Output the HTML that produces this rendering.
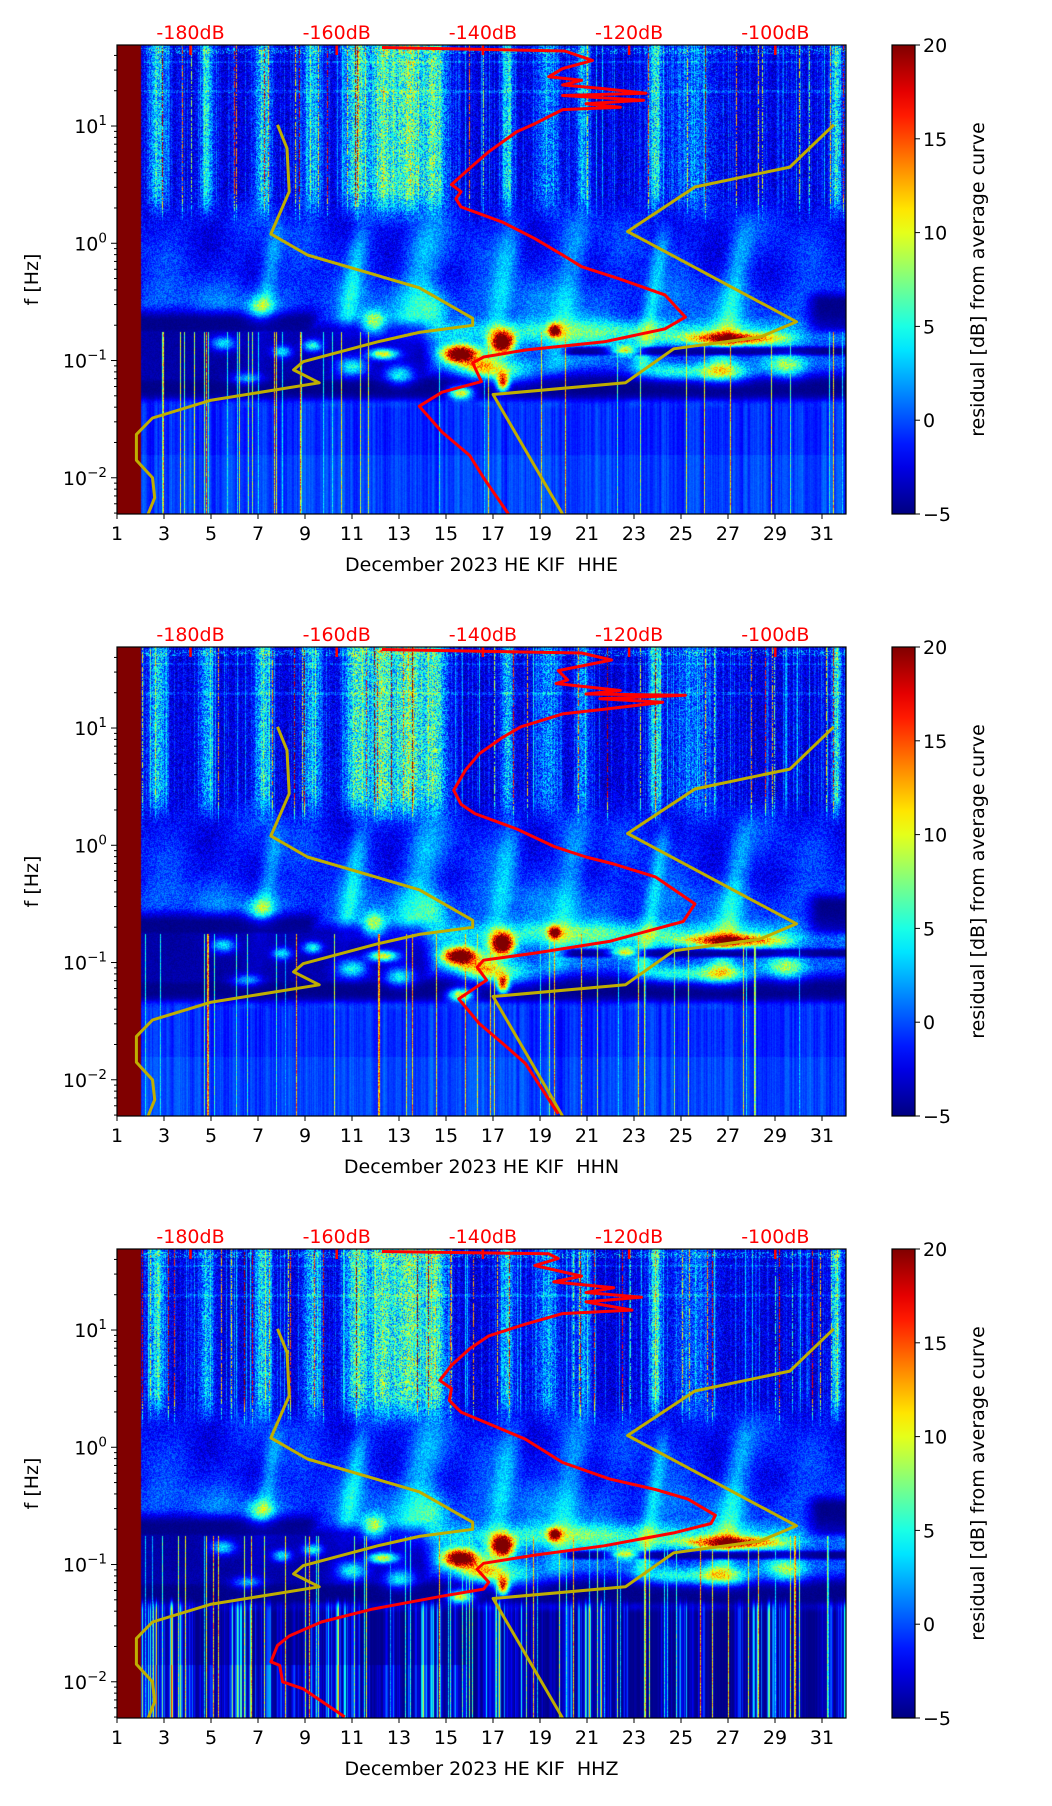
<!DOCTYPE html>
<html><head><meta charset="utf-8">
<style>
html,body{margin:0;padding:0;background:#fff;}
#wrap{position:relative;width:1052px;height:1806px;overflow:hidden;font-family:"DejaVu Sans","Liberation Sans",sans-serif;}
canvas{position:absolute;}
svg{position:absolute;left:0;top:0;}
</style></head>
<body>
<div id="wrap">
<canvas id="spec0" width="729" height="469" style="left:117px;top:45px"></canvas>
<canvas id="spec1" width="729" height="469" style="left:117px;top:647px"></canvas>
<canvas id="spec2" width="729" height="469" style="left:117px;top:1249px"></canvas>
<svg id="ov" width="1052" height="1806" xmlns="http://www.w3.org/2000/svg"></svg>
</div>
<script>
// ---- data ----
const panelTitles = ["December 2023 HE KIF\u00a0\u00a0HHE","December 2023 HE KIF\u00a0\u00a0HHN","December 2023 HE KIF\u00a0\u00a0HHZ"];
const dayTicks = [1,3,5,7,9,11,13,15,17,19,21,23,25,27,29,31];
const dbTicks = [-180,-160,-140,-120,-100];
const cbTicks = [-5,0,5,10,15,20];
const yDecades = [-2,-1,0,1];
// yellow percentile curves (dB, log10 Hz)
const yelLowDb = [-168.1,-166.8,-166.5,-169.0,-164.0,-148.7,-141.4,-141.4,-148.7,-154.4,-164.6,-165.9,-162.4,-177.3,-185.2,-187.4,-187.4,-185.2,-184.9,-185.8];
const yelLowLf = [1.01,0.81,0.44,0.08,-0.10,-0.38,-0.64,-0.70,-0.76,-0.84,-1.01,-1.08,-1.19,-1.34,-1.49,-1.63,-1.85,-2.00,-2.17,-2.31];
const yelHighDb = [-92.0,-98.0,-111.0,-120.2,-97.1,-102.1,-113.9,-120.5,-138.6,-129.1];
const yelHighLf = [1.01,0.65,0.48,0.10,-0.67,-0.80,-0.90,-1.19,-1.29,-2.31];
// red average curves
const red1Db = [-153.8,-128.8,-125.0,-129.1,-131.0,-126.5,-129.1,-123.7,-117.7,-129.1,-118.0,-125.9,-121.2,-129.1,-132.9,-135.4,-139.2,-141.8,-144.3,-143.0,-143.7,-143.0,-137.3,-132.9,-129.1,-126.5,-121.5,-115.1,-112.3,-115.1,-123.4,-134.2,-139.9,-141.4,-140.2,-145.6,-148.7,-145.6,-141.8,-139.9,-136.5];
const red1Lf = [1.67,1.64,1.56,1.49,1.42,1.39,1.35,1.32,1.28,1.26,1.22,1.19,1.16,1.14,1.02,0.95,0.78,0.64,0.50,0.44,0.38,0.31,0.18,0.04,-0.10,-0.20,-0.30,-0.44,-0.63,-0.73,-0.84,-0.91,-0.97,-1.02,-1.18,-1.27,-1.39,-1.61,-1.81,-2.00,-2.31];
const red2Db = [-153.8,-126.5,-122.4,-129.7,-128.4,-130.0,-121.2,-125.9,-112.3,-124.0,-115.4,-123.4,-129.1,-134.8,-137.3,-140.5,-142.4,-144.0,-143.0,-141.1,-135.4,-130.3,-125.9,-122.1,-116.4,-111.0,-112.6,-122.7,-132.9,-139.9,-140.8,-139.5,-143.3,-140.5,-137.3,-134.2,-129.7];
const red2Lf = [1.67,1.64,1.58,1.49,1.41,1.38,1.32,1.29,1.28,1.25,1.22,1.16,1.12,1.01,0.92,0.78,0.64,0.47,0.35,0.27,0.14,-0.01,-0.10,-0.16,-0.27,-0.50,-0.65,-0.82,-0.92,-0.98,-1.04,-1.15,-1.31,-1.52,-1.69,-1.86,-2.29];
const red3Db = [-153.8,-131.0,-129.7,-132.9,-126.5,-130.3,-122.1,-125.9,-118.3,-125.9,-119.6,-129.1,-134.2,-139.2,-141.8,-144.3,-145.9,-144.3,-144.6,-143.0,-139.2,-134.2,-129.1,-122.7,-116.4,-112.0,-108.2,-108.8,-113.9,-123.4,-132.9,-139.9,-140.8,-139.2,-139.9,-145.6,-155.1,-162.1,-166.5,-168.1,-169.0,-167.8,-167.4,-164.6,-158.9];
const red3Lf = [1.67,1.65,1.61,1.55,1.46,1.41,1.36,1.32,1.28,1.24,1.17,1.14,1.05,0.95,0.84,0.70,0.57,0.50,0.40,0.30,0.20,0.07,-0.13,-0.27,-0.36,-0.44,-0.58,-0.65,-0.73,-0.84,-0.92,-0.99,-1.04,-1.15,-1.21,-1.27,-1.38,-1.49,-1.61,-1.69,-1.83,-1.86,-2.00,-2.06,-2.30];
const redDb = [red1Db, red2Db, red3Db];
const redLf = [red1Lf, red2Lf, red3Lf];

// ---- layout / axes ----
const L = 117, W = 729, H = 469;
const tops = [45, 647, 1249];
const DAY0 = 1, PXDAY = 23.5;
const LFMAX = 1.691, PXDEC = 117.25;
const FS = 19;
function xDay(d){ return L + (d - DAY0) * PXDAY; }
function xDb(db){ return 190.5 + (db + 180) * 7.31; }
function yLf(lf, top){ return top + (LFMAX - lf) * PXDEC; }

// ---- jet colormap ----
function jet(t){
  t = Math.max(0, Math.min(1, t));
  function c(x){ return Math.max(0, Math.min(1, x)); }
  const r = c(Math.min(4*t - 1.5, -4*t + 4.5));
  const g = c(Math.min(4*t - 0.5, -4*t + 3.5));
  const b = c(Math.min(4*t + 0.5, -4*t + 2.5));
  return [r*255, g*255, b*255];
}

// ---- spectrogram texture ----
function rng(seed){ return function(){ seed |= 0; seed = seed + 0x6D2B79F5 | 0; let t = Math.imul(seed ^ seed >>> 15, 1 | seed); t = t + Math.imul(t ^ t >>> 7, 61 | t) ^ t; return ((t ^ t >>> 14) >>> 0) / 4294967296; }; }
function sstep(a, b, x){ let t = (x - a) / (b - a); t = Math.max(0, Math.min(1, t)); return t*t*(3-2*t); }
function g2(d, lf, d0, l0, sd, sl){ const a=(d-d0)/sd, b=(lf-l0)/sl; return Math.exp(-a*a-b*b); }
const upBands = [[2.7,0.35,6],[4.8,0.3,5],[7.2,0.35,6],[9.3,0.4,5],[11.2,0.5,8],[12.3,0.5,8],[13.4,0.6,9],[14.5,0.5,8],[17.6,0.25,6],[19.3,0.5,4],[20.8,0.3,4],[23.9,0.25,7],[25.5,0.9,3],[31.6,0.2,7]];
const blobs = [[7.1,-0.55,0.6,0.1,7],[11.9,-0.67,0.5,0.1,10],[15.6,-0.94,0.7,0.07,26],[17.4,-0.84,0.45,0.09,26],[19.6,-0.74,0.25,0.05,18],[12.3,-0.94,0.6,0.045,14],[9.3,-0.87,0.4,0.05,9],[15.6,-1.28,0.5,0.06,16],[17.4,-1.18,0.25,0.08,18],[22.6,-0.91,0.6,0.04,15],[27.1,-0.81,2.0,0.05,17],[26.7,-1.1,1.2,0.08,12],[22.0,-0.75,8,0.1,6],[17.5,-1.1,1.5,0.1,7],[14.5,-0.55,0.6,0.15,5],[29.5,-1.05,0.8,0.1,8],[5.5,-0.85,0.5,0.06,8],[8.0,-0.92,0.4,0.05,8],[11.0,-1.05,0.6,0.08,9],[13.0,-1.12,0.6,0.08,8],[6.5,-1.15,0.6,0.05,6],[16.3,-1.05,0.8,0.08,8],[24.5,-1.1,1.2,0.07,7]];
const plumes = [[17.6,0.5,-0.1],[24,0.35,-0.2],[27.3,0.5,-0.3],[11,0.4,-0.35],[14,0.8,-0.1],[20.5,0.6,0.0],[7.3,0.4,-0.45]];
function drawSpec(idx){
  const cv = document.getElementById('spec'+idx);
  const ctx = cv.getContext('2d');
  const img = ctx.createImageData(W, H);
  const R = rng(1234 + idx*7);
  const colStreak = [], colStripe = [], colSpikeUp = [], colSpikeLow = [];
  let prev = 0;
  for (let x=0;x<W;x++){
    const r = R();
    colStreak.push(r > 0.88 ? 6*R() : r > 0.55 ? 2.5*R() : 0);
    prev = 0.5*prev + 0.5*R();
    colStripe.push(prev);
    colSpikeUp.push(R() < 0.04 ? 8 + 12*R() : 0);
    colSpikeLow.push(R() < (idx==2?0.09:0.05) ? 8 + 14*R() : 0);
  }
  for (let y=0;y<H;y++){
    const lf = LFMAX - y / PXDEC;
    for (let x=0;x<W;x++){
      const d = DAY0 + x / PXDAY;
      let v;
      if (d < 2.02){ v = 20; }
      else {
        const n = R();
        let band = 0;
        for (const b of upBands){ const a=(d-b[0])/b[1]; band += b[2]*Math.exp(-a*a); }
        let vUp = -2.8 + band + colStreak[x] + (n-0.5)*6*(0.6+band/8) + colSpikeUp[x]*(R()<0.7?1:0);
        if (Math.abs(lf-1.3)<0.012 || Math.abs(lf-1.55)<0.01) vUp += 3*R();
        let vMid = -1.4 + 0.8*Math.sin(d*0.9+lf*6) + 0.6*Math.sin(d*2.3-lf*4) + (n-0.5)*3;
        for (const p of plumes){ const a=(d-p[0]-(lf-p[2])*0.8)/p[1]; vMid += 4*Math.exp(-a*a)*sstep(0.4,-0.1,lf); }
        vMid += 1.5*sstep(0.3,-0.3,lf)*sstep(-0.2,-0.5,lf);
        let navy = sstep(-0.5,-0.66,lf)*sstep(-0.85,-0.72,lf)*sstep(10,9,d);
        navy = Math.max(navy, 0.85*sstep(-0.6,-0.75,lf)*sstep(-1.4,-1.28,lf)*sstep(14.8,13.8,d));
        navy = Math.max(navy, sstep(-1.0,-1.2,lf)*sstep(-1.4,-1.3,lf));
        navy = Math.max(navy, sstep(-0.86,-0.9,lf)*sstep(-0.97,-0.93,lf)*sstep(19.5,20.5,d));
        navy = Math.max(navy, sstep(-0.35,-0.5,lf)*sstep(-0.8,-0.7,lf)*sstep(30,31,d));
        vMid = vMid*(1-navy) + (-4.7 + (n-0.5)*0.6)*navy;
        for (const b of blobs){ vMid += b[4]*g2(d,lf,b[0],b[1],b[2],b[3])*(0.85+0.3*n); }
        let vLow;
        if (idx==2){
          const s = colStripe[x]*colStripe[x]; 
          vLow = -4.8 + s*s*30*(0.7+0.6*Math.sin(d*1.7+3)) + (lf<-1.85 && d<16 ? 4*s : 0);
        } else {
          vLow = -2.6 + colStripe[x]*3.5 + (lf<-1.8?0.6:0) + (n-0.5)*0.6;
        }
        const wUp = sstep(0.12,0.5,lf);
        const wLow = sstep(-1.25,-1.42,lf);
        v = wUp*vUp + wLow*vLow + Math.max(0,1-wUp-wLow)*vMid;
        if (lf < -0.75) v = Math.max(v, colSpikeLow[x]*(0.7+0.3*n) - 5);
        if (lf < 1.67 && lf > 1.62 && R()<0.3) v += 4;
      }
      const c = jet((v+5)/25);
      const i = (y*W + x)*4;
      img.data[i]=c[0]; img.data[i+1]=c[1]; img.data[i+2]=c[2]; img.data[i+3]=255;
    }
  }
  ctx.putImageData(img, 0, 0);
}
for (let i=0;i<3;i++) drawSpec(i);

// ---- overlay ----
const NS = "http://www.w3.org/2000/svg";
const ov = document.getElementById('ov');
function mk(tag, attrs, parent){
  const e = document.createElementNS(NS, tag);
  for (const k in attrs) e.setAttribute(k, attrs[k]);
  (parent||ov).appendChild(e);
  return e;
}
const defs = mk('defs', {});
const grad = mk('linearGradient', {id:'jetg', x1:'0', y1:'1', x2:'0', y2:'0'}, defs);
for (let i=0;i<=20;i++){ const c = jet(i/20); mk('stop', {offset:(i/20).toString(), 'stop-color':'rgb('+c.map(Math.round).join(',')+')'}, grad); }

for (let p=0;p<3;p++){
  const top = tops[p], bot = top + H;
  const g = mk('g', {});
  
  
  const cp = mk('clipPath', {id:'clip'+p}, defs);
  mk('rect', {x:L, y:top, width:W, height:H}, cp);
  const curves = [[yelLowDb, yelLowLf, '#bfae00', 'yellow-low-percentile'], [yelHighDb, yelHighLf, '#bfae00', 'yellow-high-percentile'], [redDb[p], redLf[p], '#ff0000', 'red-average-curve']];
  for (const c of curves){
    const pts = c[0].map((db,i)=> xDb(db).toFixed(1)+','+yLf(c[1][i], top).toFixed(1)).join(' ');
    const pl = mk('polyline', {points:pts, fill:'none', stroke:c[2], 'stroke-width':'3', 'stroke-linejoin':'round', 'clip-path':'url(#clip'+p+')'}, g);
    
    
  }
  for (const db of dbTicks){
    const x = xDb(db);
    const tk = mk('line', {x1:x, y1:top, x2:x, y2:top+10, stroke:'#ff0000', 'stroke-width':'2.5'}, g);
    
    
    const t = mk('text', {x:x, y:top-6, 'text-anchor':'middle', 'font-size':FS, fill:'#ff0000'}, g);
    t.textContent = db + 'dB';
    
    
  }
  const fr = mk('rect', {x:L, y:top, width:W, height:H, fill:'none', stroke:'#000', 'stroke-width':'1.2'}, g);
  
  
  for (const d of dayTicks){
    const x = xDay(d);
    mk('line', {x1:x, y1:bot, x2:x, y2:bot+5, stroke:'#000', 'stroke-width':'1'}, g);
    const t = mk('text', {x:x, y:bot+26, 'text-anchor':'middle', 'font-size':FS, fill:'#000'}, g);
    t.textContent = d;
    
    
  }
  const xl = mk('text', {x:L+W/2, y:bot+57, 'text-anchor':'middle', 'font-size':FS, fill:'#000'}, g);
  xl.textContent = panelTitles[p];
  
  
  for (let dec=-3; dec<=1; dec++){
    for (let m=1;m<=9;m++){
      const lf = dec + Math.log10(m);
      if (lf < LFMAX-4-0.001 || lf > LFMAX+0.001) continue;
      const y = yLf(lf, top);
      mk('line', {x1:L, y1:y, x2:L-(m==1?6:3), y2:y, stroke:'#000', 'stroke-width':'1'}, g);
    }
  }
  for (const dec of yDecades){
    const y = yLf(dec, top);
    const t = mk('text', {x:L-10, y:y+7, 'text-anchor':'end', 'font-size':FS, fill:'#000'}, g);
    
    
    const a = mk('tspan', {}, t); a.textContent = '10';
    const b = mk('tspan', {dy:'-8', 'font-size':'13.5'}, t); b.textContent = dec < 0 ? '\u2212' + (-dec) : String(dec);
  }
  const yl = mk('text', {x:0, y:0, 'text-anchor':'middle', 'font-size':FS, fill:'#000', transform:'translate(38,'+(top+H/2)+') rotate(-90)'}, g);
  yl.textContent = 'f [Hz]';
  
  
  const cb = mk('rect', {x:892, y:top, width:23, height:H, fill:'url(#jetg)', stroke:'#000', 'stroke-width':'1.2'}, g);
  
  
  for (const v of cbTicks){
    const y = top + H - (v+5)/25*H;
    mk('line', {x1:915, y1:y, x2:920, y2:y, stroke:'#000', 'stroke-width':'1'}, g);
    const t = mk('text', {x:923, y:y+7, 'font-size':FS, fill:'#000'}, g);
    t.textContent = v < 0 ? '\u2212' + (-v) : String(v);
    
    
  }
  const cl = mk('text', {x:0, y:0, 'text-anchor':'middle', 'font-size':FS, fill:'#000', transform:'translate(984,'+(top+H/2)+') rotate(-90)'}, g);
  cl.textContent = 'residual [dB] from average curve';
  
  
}
</script>
</body></html>
